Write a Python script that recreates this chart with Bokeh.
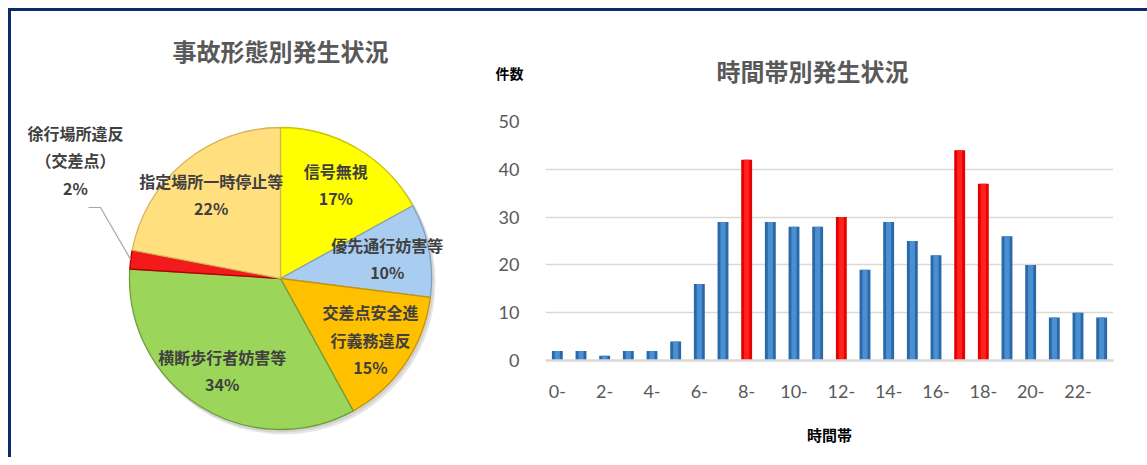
import math
from bokeh.plotting import figure
from bokeh.layouts import row, column
from bokeh.models import Range1d, FixedTicker, ColumnDataSource
from bokeh.core.properties import value
from bokeh.embed import file_html
from bokeh.resources import INLINE

# ---------------- data ----------------
pie_title = "事故形態別発生状況"
pie_categories = ["信号無視", "優先通行妨害等", "交差点安全進行義務違反",
                  "横断歩行者妨害等", "徐行場所違反（交差点）", "指定場所一時停止等"]
pie_display = ["信号無視", "優先通行妨害等", "交差点安全進\n行義務違反",
               "横断歩行者妨害等", "徐行場所違反\n（交差点）", "指定場所一時停止等"]
pie_percent = [17, 10, 15, 34, 2, 22]
pie_colors = ["#ffff00", "#a9cdf0", "#ffc000", "#9bd65a", "#f21a1a", "#ffdf7e"]
pie_edges = ["#c9c400", "#7f9fc2", "#c99400", "#6e9e3a", "#b00000", "#d4b45a"]

bar_title = "時間帯別発生状況"
y_axis_title = "件数"
x_axis_title = "時間帯"
hours = list(range(24))
hour_labels = [f"{h}-" for h in hours]
counts = [2, 2, 1, 2, 2, 4, 16, 29, 42, 29, 28, 28, 30, 19, 29, 25, 22, 44, 37, 26, 20, 9, 10, 9]
highlight_hours = [8, 12, 17, 18]
y_ticks = [0, 10, 20, 30, 40, 50]

JP = "Noto Sans CJK JP"
NUM = "Lato"
GRAY = "#595959"
LABEL_SIZE = "16px"
LINE_H = 1.13

# ---------------- pie ----------------
PW, PH = 462, 446
R = 151
CX_OFF, CY_OFF = 269, 267   # centre offset from figure left / top (px)

p1 = figure(width=PW, height=PH, x_range=Range1d(-CX_OFF, PW - CX_OFF),
            y_range=Range1d(-(PH - CY_OFF), CY_OFF), output_backend="svg",
            toolbar_location=None, min_border=0, x_axis_type=None, y_axis_type=None)
p1.grid.visible = False
p1.outline_line_color = None

total = float(sum(pie_percent))
starts, ends, mids = [], [], []
cum = 0.0
for v in pie_percent:
    a0 = math.pi / 2 - 2 * math.pi * cum / total
    cum += v
    a1 = math.pi / 2 - 2 * math.pi * cum / total
    starts.append(a0); ends.append(a1); mids.append((a0 + a1) / 2)

# soft shadow
p1.circle(x=[3], y=[-4], radius=R + 1, fill_color="#9a9a9a", fill_alpha=0.25, line_color=None)
p1.circle(x=[1.5], y=[-2], radius=R + 1, fill_color="#9a9a9a", fill_alpha=0.25, line_color=None)

src = ColumnDataSource(dict(start=starts, end=ends, color=pie_colors, edge=pie_edges))
p1.wedge(x=0, y=0, radius=R, start_angle="start", end_angle="end", direction="clock",
         fill_color="color", line_color="edge", line_width=1.3, source=src)

inside_x, inside_y, inside_t = [], [], []
for name, v, m in zip(pie_display, pie_percent, mids):
    txt = f"{name}\n{v}%"
    if v >= 5:
        inside_x.append(0.72 * R * math.cos(m))
        inside_y.append(0.72 * R * math.sin(m))
        inside_t.append(txt)
    else:
        ex, ey = R * math.cos(m), R * math.sin(m)
        elbow_x, elbow_y = -180, 71
        p1.line(x=[ex, elbow_x, elbow_x - 12], y=[ey, elbow_y, elbow_y],
                line_color="#a6a6a6", line_width=1.2)
        p1.text(x=[-205], y=[118], text=[txt], text_align="center", text_baseline="middle",
                text_font=value(JP), text_font_style="bold", text_font_size=LABEL_SIZE,
                text_color="#404040", text_line_height=LINE_H)

p1.text(x=inside_x, y=inside_y, text=inside_t, text_align="center", text_baseline="middle",
        text_font=value(JP), text_font_style="bold", text_font_size=LABEL_SIZE,
        text_color="#404040", text_line_height=LINE_H)

p1.text(x=[0], y=[CY_OFF - 39], text=[pie_title], text_align="center", text_baseline="middle",
        text_font=value(JP), text_font_style="bold", text_font_size="24px", text_color=GRAY)

# ---------------- bar chart header ----------------
BW = 674
HH = 90
ph = figure(width=BW, height=HH, x_range=Range1d(0, BW), y_range=Range1d(0, HH),
            output_backend="svg", toolbar_location=None, min_border=0,
            x_axis_type=None, y_axis_type=None)
ph.grid.visible = False
ph.outline_line_color = None
ph.text(x=[339], y=[HH - 59], text=[bar_title], text_align="center", text_baseline="middle",
        text_font=value(JP), text_font_style="bold", text_font_size="24px", text_color=GRAY)
ph.text(x=[36], y=[HH - 61], text=[y_axis_title], text_align="center", text_baseline="middle",
        text_font=value(JP), text_font_style="bold", text_font_size="14px", text_color="#000000")

# ---------------- bars ----------------
p2 = figure(width=BW, height=PH - HH, x_range=Range1d(-0.5, 23.5), y_range=Range1d(0, 50),
            output_backend="svg", toolbar_location=None,
            min_border_left=72, min_border_right=34, min_border_top=110 - HH, min_border_bottom=97)
p2.outline_line_color = None
p2.xgrid.grid_line_color = None
p2.ygrid.grid_line_color = "#d9d9d9"
p2.ygrid.grid_line_width = 1.5
p2.ygrid.ticker = FixedTicker(ticks=y_ticks)

base_colors = ["#e60000" if h in highlight_hours else "#2a68a8" for h in hours]
light_colors = ["#ff2020" if h in highlight_hours else "#4a8fd2" for h in hours]
bsrc = ColumnDataSource(dict(x=hours, top=counts, base=base_colors, light=light_colors))
p2.vbar(x="x", top="top", width=0.46, fill_color="base", line_color=None, source=bsrc)
p2.vbar(x="x", top="top", width=0.22, fill_color="light", line_color=None, source=bsrc)

p2.xaxis.ticker = FixedTicker(ticks=hours[::2])
p2.xaxis.major_label_overrides = {h: hour_labels[h] for h in hours}
p2.xaxis.axis_line_color = "#d9d9d9"
p2.xaxis.axis_line_width = 2.5
p2.xaxis.major_tick_line_color = None
p2.xaxis.minor_tick_line_color = None
p2.xaxis.major_label_standoff = 18
p2.xaxis.major_label_text_font = NUM
p2.xaxis.major_label_text_font_size = "18px"
p2.xaxis.major_label_text_color = GRAY
p2.xaxis.axis_label = x_axis_title
p2.xaxis.axis_label_text_font = JP
p2.xaxis.axis_label_text_font_style = "bold"
p2.xaxis.axis_label_text_font_size = "15px"
p2.xaxis.axis_label_text_color = "#000000"
p2.xaxis.axis_label_standoff = 23

p2.yaxis.ticker = FixedTicker(ticks=y_ticks)
p2.yaxis.axis_line_color = None
p2.yaxis.major_tick_line_color = None
p2.yaxis.minor_tick_line_color = None
p2.yaxis.major_label_standoff = 20
p2.yaxis.major_label_text_font = NUM
p2.yaxis.major_label_text_font_size = "18px"
p2.yaxis.major_label_text_color = GRAY

layout = row(column(p1), column(column(ph), column(p2)),
             styles={"border-top": "3px solid #0f2a6c", "border-left": "3px solid #0f2a6c",
                     "margin-top": "8px", "margin-left": "8px"})

open("out.html", "w").write(file_html(layout, INLINE))
